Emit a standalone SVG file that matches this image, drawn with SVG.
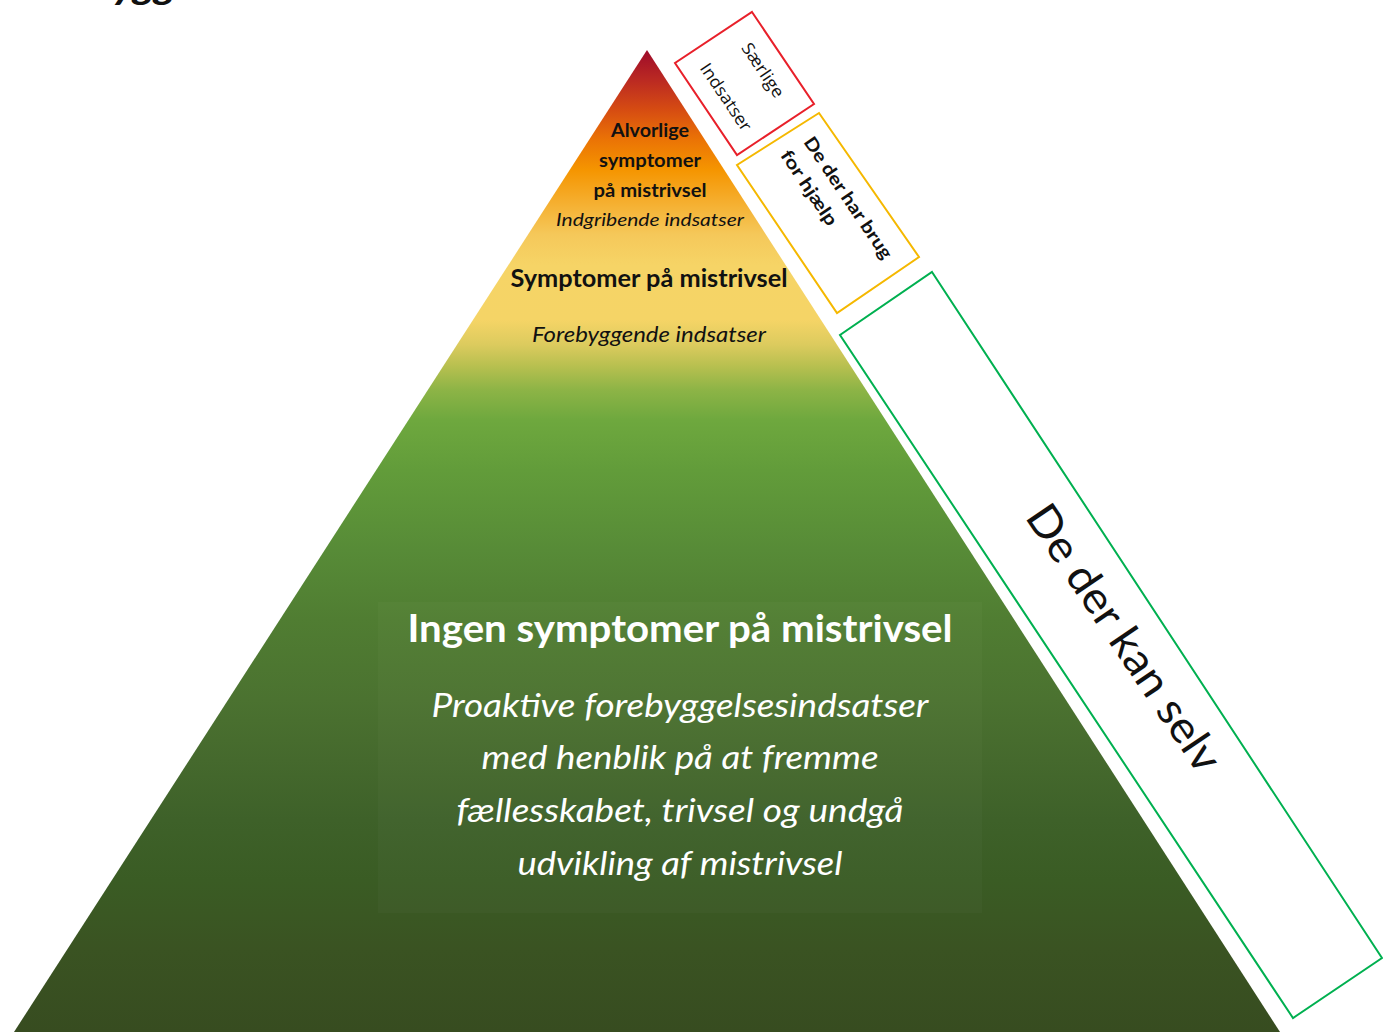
<svg xmlns="http://www.w3.org/2000/svg" width="1383" height="1032" viewBox="0 0 1383 1032">
<defs>
<linearGradient id="pyr" gradientUnits="userSpaceOnUse" x1="0" y1="50" x2="0" y2="1032">
<stop offset="0" stop-color="#9e0b2a"/>
<stop offset="0.031" stop-color="#bb2a22"/>
<stop offset="0.061" stop-color="#d64c12"/>
<stop offset="0.092" stop-color="#eb7405"/>
<stop offset="0.122" stop-color="#f59500"/>
<stop offset="0.153" stop-color="#f5ad2c"/>
<stop offset="0.188" stop-color="#f5c85a"/>
<stop offset="0.219" stop-color="#f6d466"/>
<stop offset="0.275" stop-color="#f5d466"/>
<stop offset="0.300" stop-color="#dccb5e"/>
<stop offset="0.321" stop-color="#b9c050"/>
<stop offset="0.346" stop-color="#8db446"/>
<stop offset="0.377" stop-color="#6ea83e"/>
<stop offset="0.428" stop-color="#629c3a"/>
<stop offset="0.509" stop-color="#578b37"/>
<stop offset="0.580" stop-color="#507d32"/>
<stop offset="0.662" stop-color="#4b7230"/>
<stop offset="0.723" stop-color="#45692d"/>
<stop offset="0.784" stop-color="#3e6129"/>
<stop offset="0.845" stop-color="#3a5c24"/>
<stop offset="0.916" stop-color="#3a5322"/>
<stop offset="1" stop-color="#374c20"/>
</linearGradient>
<style>
.t{font-family:Lato,"Open Sans","Liberation Sans",sans-serif;text-anchor:middle}
.o{font-family:"Open Sans",Lato,"Liberation Sans",sans-serif}
.b{font-weight:bold}
.i{font-style:italic}
.dark{fill:#111}
.wh{fill:#ffffff}
.box{fill:#ffffff;stroke-width:2}
</style>
</defs>
<text x="113" y="-1" style="font-family:Lato,'Liberation Sans',sans-serif;font-weight:900;font-style:italic;font-size:34px" fill="#111" textLength="62" lengthAdjust="spacingAndGlyphs">ygg</text>
<g id="pyramid">
<polygon points="647,50 14,1032 1280,1032" fill="url(#pyr)"/>
<rect x="378" y="602" width="604" height="311" fill="#ffffff" fill-opacity="0.025"/>
</g>
<g id="level-top">
<text class="t b dark" x="650" y="137" font-size="19" textLength="78" lengthAdjust="spacingAndGlyphs">Alvorlige</text>
<text class="t b dark" x="650" y="167" font-size="19" textLength="102" lengthAdjust="spacingAndGlyphs">symptomer</text>
<text class="t b dark" x="650" y="197" font-size="19" textLength="113" lengthAdjust="spacingAndGlyphs">på mistrivsel</text>
<text class="t i dark" x="650" y="226" font-size="18" textLength="188" lengthAdjust="spacingAndGlyphs">Indgribende indsatser</text>
</g>
<g id="level-middle">
<text class="t b dark" x="649" y="287" font-size="25" textLength="277" lengthAdjust="spacingAndGlyphs">Symptomer på mistrivsel</text>
<text class="t i dark" x="649" y="342" font-size="21" textLength="234" lengthAdjust="spacingAndGlyphs">Forebyggende indsatser</text>
</g>
<g id="level-bottom">
<text class="t b wh" x="680" y="642" font-size="38" textLength="545" lengthAdjust="spacingAndGlyphs">Ingen symptomer på mistrivsel</text>
<text class="t i wh" x="680" y="717" font-size="32" textLength="497" lengthAdjust="spacingAndGlyphs">Proaktive forebyggelsesindsatser</text>
<text class="t i wh" x="680" y="769" font-size="32" textLength="397" lengthAdjust="spacingAndGlyphs">med henblik på at fremme</text>
<text class="t i wh" x="680" y="822" font-size="32" textLength="447" lengthAdjust="spacingAndGlyphs">fællesskabet, trivsel og undgå</text>
<text class="t i wh" x="680" y="875" font-size="32" textLength="325" lengthAdjust="spacingAndGlyphs">udvikling af mistrivsel</text>
</g>
<g id="box-red">
<polygon class="box" points="752,12 814,104 737,155 675,63" stroke="#e8202a"/>
<text class="t o dark" transform="translate(763,70) rotate(56)" x="0" y="6" font-size="17" textLength="62" lengthAdjust="spacingAndGlyphs">Særlige</text>
<text class="t o dark" transform="translate(726,97) rotate(56)" x="0" y="6" font-size="17" textLength="78" lengthAdjust="spacingAndGlyphs">Indsatser</text>
</g>
<g id="box-yellow">
<polygon class="box" points="819,113 919,257 837,313 737,165" stroke="#f5b800"/>
<text class="t b dark" transform="translate(848,198) rotate(56)" x="0" y="6" font-size="18" textLength="143" lengthAdjust="spacingAndGlyphs">De der har brug</text>
<text class="t b dark" transform="translate(809,188) rotate(56)" x="0" y="6" font-size="18" textLength="87" lengthAdjust="spacingAndGlyphs">for hjælp</text>
</g>
<g id="box-green">
<polygon class="box" points="932,272 1382,958 1293,1018 840,335" stroke="#00b050"/>
<text class="t dark" transform="translate(1124,638) rotate(56)" x="0" y="15" font-size="44" textLength="312" lengthAdjust="spacingAndGlyphs">De der kan selv</text>
</g>
<g id="connectors"></g>
</svg>
